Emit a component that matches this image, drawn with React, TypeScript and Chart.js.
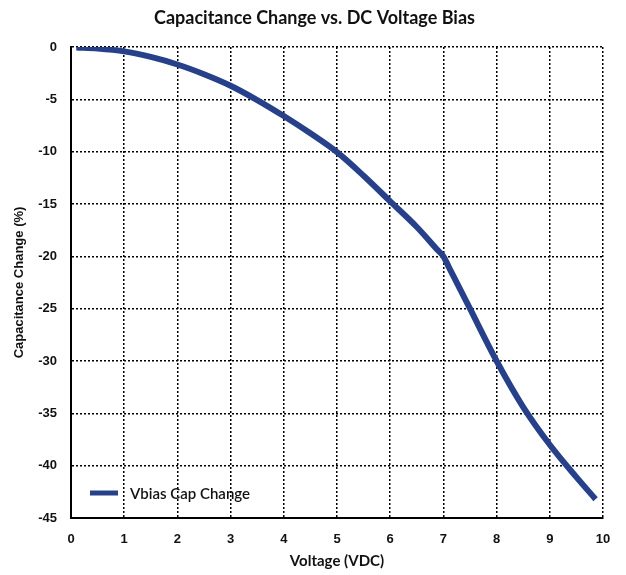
import React, { useEffect, useRef } from "react";
import { Chart, registerables } from "chart.js";

Chart.register(...registerables);

const voltage = [0.1, 0.5, 1, 1.5, 2, 2.5, 3, 3.5, 4, 4.5, 5, 5.5, 6, 6.5, 6.9, 7, 7.1, 7.5, 8, 8.5, 9, 9.5, 9.86];
const capChange = [-0.05, -0.15, -0.42, -0.95, -1.67, -2.6, -3.7, -5.07, -6.6, -8.25, -10.05, -12.3, -14.75, -17.2, -19.45, -20, -21.0, -25.0, -30.0, -34.4, -38.0, -41.1, -43.2];
const seriesLabel = "Vbias Cap Change";
const titleText = "Capacitance Change vs. DC Voltage Bias";
const xTitle = "Voltage (VDC)";
const yTitle = "Capacitance Change (%)";

const LINE_COLOR = "#27408A";

const insideLegend = {
  id: "insideLegend",
  afterDraw(chart: any) {
    const { ctx, chartArea, width } = chart;
    ctx.save();
    // title
    ctx.fillStyle = "#111";
    ctx.font = "bold 18px Lato, 'Open Sans', sans-serif";
    ctx.textAlign = "center";
    ctx.textBaseline = "middle";
    ctx.fillText(titleText, width / 2 + 1.5, 10);
    // legend
    const x0 = chartArea.left + 19;
    const y0 = chartArea.bottom - 25;
    ctx.strokeStyle = LINE_COLOR;
    ctx.lineWidth = 5;
    ctx.beginPath();
    ctx.moveTo(x0, y0);
    ctx.lineTo(x0 + 28, y0);
    ctx.stroke();
    ctx.fillStyle = "#111";
    ctx.font = "600 15px Lato, 'Open Sans', sans-serif";
    ctx.textAlign = "left";
    ctx.textBaseline = "middle";
    ctx.fillText(seriesLabel, x0 + 40, y0 + 1);
    ctx.restore();
  },
};

export default function App() {
  const ref = useRef<HTMLCanvasElement>(null);
  useEffect(() => {
    if (!ref.current) return;
    const chart = new Chart(ref.current, {
      type: "line",
      data: {
        datasets: [
          {
            label: seriesLabel,
            data: voltage.map((v, i) => ({ x: v, y: capChange[i] })),
            borderColor: LINE_COLOR,
            backgroundColor: LINE_COLOR,
            borderWidth: 6,
            pointRadius: 0,
            tension: 0.3,
            cubicInterpolationMode: "monotone",
            borderCapStyle: "butt",
            borderJoinStyle: "round",
          },
        ],
      },
      plugins: [insideLegend],
      options: {
        animation: false,
        responsive: false,
        layout: { padding: { left: 0, right: 15, top: 39, bottom: 0 } },
        plugins: {
          legend: { display: false },
          tooltip: { enabled: false },
          title: { display: false },
        },
        scales: {
          x: {
            type: "linear",
            min: 0,
            max: 10,
            afterFit: (s: any) => {
              s.height = 52;
              s.paddingLeft = 0;
              s.paddingRight = 0;
            },
            ticks: {
              stepSize: 1,
              color: "#111",
              padding: 14,
              font: { family: "'Liberation Sans', Arial, sans-serif", size: 13, weight: "bold" },
            },
            grid: { color: "#000", lineWidth: 1.5, drawTicks: false },
            border: { display: true, color: "#000", width: 2, dash: [2, 2] },
            title: {
              display: true,
              text: xTitle,
              color: "#111",
              padding: { top: 0, bottom: 0 },
              font: { family: "Lato, 'Open Sans', sans-serif", size: 15, weight: "bold" },
            },
          },
          y: {
            type: "linear",
            min: -45,
            max: 0,
            afterFit: (s: any) => {
              s.width = 63;
              s.paddingTop = 0;
              s.paddingBottom = 0;
            },
            ticks: {
              stepSize: 5,
              color: "#111",
              padding: 14,
              font: { family: "'Liberation Sans', Arial, sans-serif", size: 13, weight: "bold" },
            },
            grid: { color: "#000", lineWidth: 1.5, drawTicks: false },
            border: { display: true, color: "#000", width: 2, dash: [2, 2] },
            title: {
              display: true,
              text: yTitle,
              color: "#111",
              padding: { top: 4, bottom: 0 },
              font: { family: "'Liberation Sans', Arial, sans-serif", size: 13, weight: "bold" },
            },
          },
        },
      } as any,
    });
    return () => chart.destroy();
  }, []);
  return (
    <div style={{ width: 610, height: 562 }}>
      <canvas ref={ref} width={610} height={562} style={{ display: "block" }} />
    </div>
  );
}
